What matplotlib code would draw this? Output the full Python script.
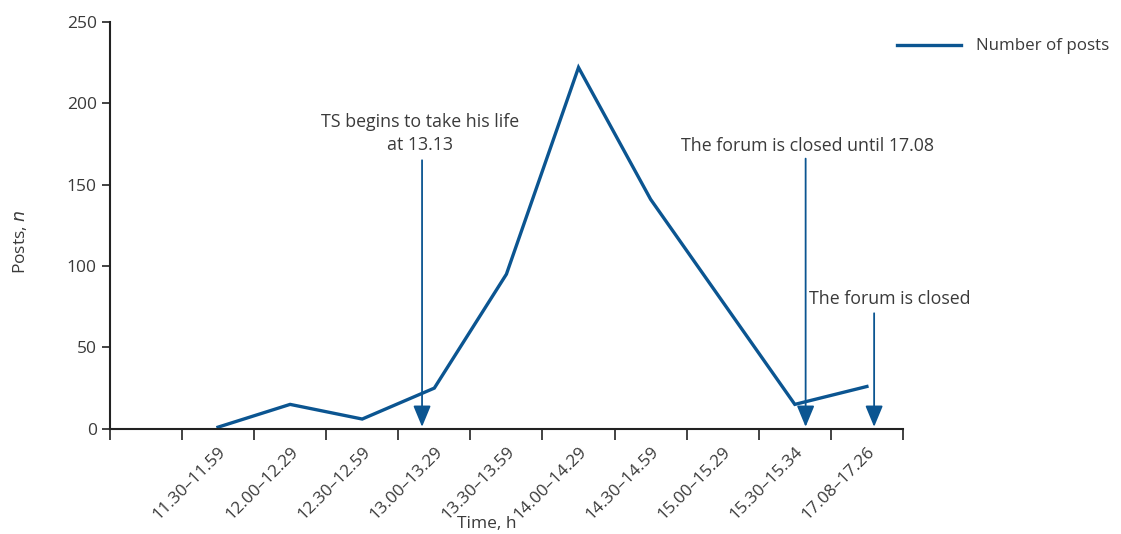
import matplotlib
matplotlib.use("Agg")
import matplotlib.pyplot as plt

plt.rcParams['font.family'] = ['Open Sans', 'DejaVu Sans']

# half-hour windows, first slot on the axis is left empty
periods = ['11.30–11.59', '12.00–12.29', '12.30–12.59', '13.00–13.29',
           '13.30–13.59', '14.00–14.29', '14.30–14.59', '15.00–15.29',
           '15.30–15.34', '17.08–17.26']
posts = [1, 15, 6, 25, 95, 222, 141, 78, 15, 26]

# events: x position (in category units), arrow top (posts), label
event_x = [3.83, 9.15, 10.1]
event_top = [165, 166, 71]
event_text = ['TS begins to take his life\nat 13.13',
              'The forum is closed until 17.08',
              'The forum is closed']

blue = '#0b5591'
grey = '#3a3a3a'

fig = plt.figure(figsize=(11.21, 5.34), dpi=100)
ax = fig.add_axes([0.098, 0.197, 0.7075, 0.762])

xs = list(range(1, len(periods) + 1))
line, = ax.plot(xs, posts, color=blue, lw=2.4, solid_joinstyle='miter',
                label='Number of posts')

for x, top in zip(event_x, event_top):
    ax.annotate('', xy=(x, 1.2), xytext=(x, top),
                arrowprops=dict(arrowstyle='-|>,head_width=0.27,head_length=0.65',
                                mutation_scale=20, color=blue, lw=1.3,
                                shrinkA=0, shrinkB=0))

ax.text(3.8, 169, event_text[0], ha='center', va='bottom', fontsize=12.8,
        color=grey, linespacing=1.35)
ax.text(9.17, 174, event_text[1], ha='center', va='center', fontsize=12.8, color=grey)
ax.text(10.32, 80, event_text[2], ha='center', va='center', fontsize=12.8, color=grey)

ax.set_xlim(-0.5, 10.5)
ax.set_ylim(0, 250)
ax.set_yticks([0, 50, 100, 150, 200, 250])

ax.set_xticks(xs)
ax.set_xticklabels(periods, rotation=45, ha='right', rotation_mode='anchor')
ax.set_xticks([i - 0.5 for i in range(len(periods) + 2)], minor=True)
ax.tick_params(axis='x', which='major', length=0, pad=11, labelsize=12.3, labelcolor=grey)
ax.tick_params(axis='x', which='minor', length=8, width=1.2, color='#222222')
ax.tick_params(axis='y', length=6, width=1.2, color='#222222', labelsize=12.5,
               labelcolor=grey)

for side in ['top', 'right']:
    ax.spines[side].set_visible(False)
for side in ['left', 'bottom']:
    ax.spines[side].set_linewidth(1.5)
    ax.spines[side].set_color('#222222')

ax.set_ylabel('Posts, $\\it{n}$', fontsize=12.5, color=grey)
ax.yaxis.set_label_coords(-0.102, 0.46)
ax.set_xlabel('Time, h', fontsize=12.5, color=grey)
ax.xaxis.set_label_coords(0.475, -0.215)

fig.legend(handles=[line], loc='center left', bbox_to_anchor=(0.8, 0.913),
           frameon=False, fontsize=12.2, handlelength=3.8, handletextpad=0.9,
           borderpad=0, borderaxespad=0, labelcolor=grey)

fig.savefig('out.png', dpi=100)
